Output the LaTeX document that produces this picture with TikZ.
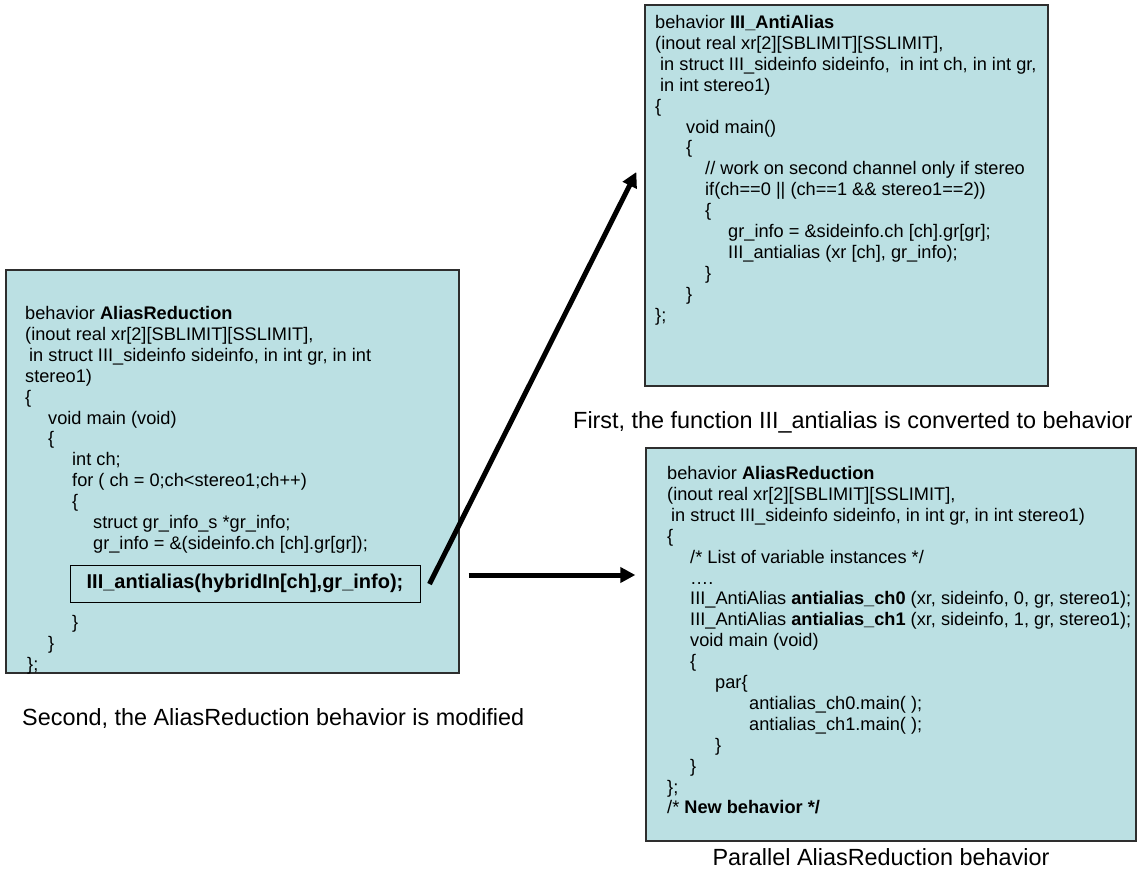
\documentclass[tikz,border=0pt]{standalone}
\usepackage{fontspec}
\setmainfont{Liberation Sans}
\usetikzlibrary{arrows.meta,calc}
\definecolor{boxfill}{HTML}{BBE0E3}
\definecolor{boxline}{HTML}{2E2E2E}
\newcommand\ind[1]{\hspace*{#1pt}}
\newcommand\codefont{\fontsize{18.2}{20.9}\selectfont}
\newcommand\capfont{\fontsize{23.4}{28}\selectfont}
\begin{document}
\begin{tikzpicture}[x=1pt,y=-1pt,
  codebox/.style={draw=boxline,fill=boxfill,line width=1.3pt,rectangle,inner sep=0pt},
  codetext/.style={anchor=base west,inner sep=0pt,font=\codefont},
  captiontext/.style={inner sep=0pt,font=\capfont},
  bigarrow/.style={line width=5pt,-{Triangle[length=15pt,width=15pt]}}]
\useasboundingbox (0,0) rectangle (1138,873);

% boxes
\node[codebox,minimum width=453pt,minimum height=403pt] (arbox) at (232.5,471.5) {};
\node[codebox,minimum width=403pt,minimum height=381pt] (anti) at (846.5,195.5) {};
\node[codebox,minimum width=490pt,minimum height=393pt] (par) at (891,644.5) {};

% left box code
\node[codetext] (artext) at (25,319.5) {\begin{tabular}[t]{@{}l@{}}
behavior \textbf{AliasReduction}\\
(inout real xr[2][SBLIMIT][SSLIMIT],\\
\ind{4}in struct III\_sideinfo sideinfo, in int gr, in int\\
stereo1)\\
\{\\
\ind{23}void main (void)\\
\ind{23}\{\\
\ind{47}int ch;\\
\ind{47}for ( ch = 0;ch<stereo1;ch++)\\
\ind{47}\{\\
\ind{68}struct gr\_info\_s *gr\_info;\\
\ind{68}gr\_info = \&(sideinfo.ch [ch].gr[gr]);
\end{tabular}};
\node[draw=black,line width=1pt,fill=boxfill,minimum width=350pt,minimum height=37pt,inner sep=0pt,
  font=\fontsize{20}{24}\selectfont\bfseries] (call) at (245,583.5) {III\_antialias(hybridIn[ch],gr\_info);};
\node[codetext] (artext2) at (25,628.5) {\begin{tabular}[t]{@{}l@{}}
\ind{47}\}\\
\ind{23}\}\\
\ind{2}\};
\end{tabular}};

% top right code
\node[codetext] (antitext) at (655,28.5) {\begin{tabular}[t]{@{}l@{}}
behavior \textbf{III\_AntiAlias}\\
(inout real xr[2][SBLIMIT][SSLIMIT],\\
\ind{5}in struct III\_sideinfo sideinfo, \ in int ch, in int gr,\\
\ind{5}in int stereo1)\\
\{\\
\ind{31}void main()\\
\ind{31}\{\\
\ind{50}// work on second channel only if stereo\\
\ind{50}if(ch==0 || (ch==1 \&\& stereo1==2))\\
\ind{50}\{\\
\ind{73}gr\_info = \&sideinfo.ch [ch].gr[gr];\\
\ind{73}III\_antialias (xr [ch], gr\_info);\\
\ind{50}\}\\
\ind{31}\}\\
\};
\end{tabular}};

% bottom right code
\node[codetext] (partext) at (667,479.5) {\begin{tabular}[t]{@{}l@{}}
behavior \textbf{AliasReduction}\\
(inout real xr[2][SBLIMIT][SSLIMIT],\\
\ind{4}in struct III\_sideinfo sideinfo, in int gr, in int stereo1)\\
\{\\
\ind{23}/* List of variable instances */\\
\ind{23}….\\
\ind{23}III\_AntiAlias \textbf{antialias\_ch0} (xr, sideinfo, 0, gr, stereo1);\\
\ind{23}III\_AntiAlias \textbf{antialias\_ch1} (xr, sideinfo, 1, gr, stereo1);\\
\ind{23}void main (void)\\
\ind{23}\{\\
\ind{48}par\{\\
\ind{82}antialias\_ch0.main( );\\
\ind{82}antialias\_ch1.main( );\\
\ind{48}\}\\
\ind{23}\}\\
\};\\
/* \textbf{New behavior */}
\end{tabular}};

% captions
\node[captiontext,anchor=base west] (cap1) at (573,428.5) {First, the function III\_antialias is converted to behavior};
\node[captiontext,anchor=base west] (cap2) at (22,725.5) {Second, the AliasReduction behavior is modified};
\node[captiontext,anchor=base] (cap3) at (881,865) {Parallel AliasReduction behavior};

% arrows
\draw[bigarrow] ([shift={(9,0.5)}]call.east) -- ([shift={(-8,-23.5)}]anti.west);
\draw[bigarrow] ([shift={(9,103.5)}]arbox.east) -- ([shift={(-10,-69.5)}]par.west);
\end{tikzpicture}
\end{document}
